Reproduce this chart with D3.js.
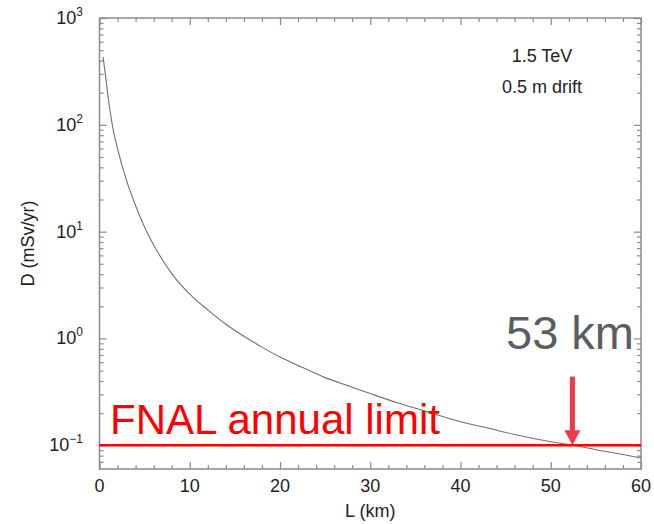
<!DOCTYPE html>
<meta charset="utf-8">
<title>dose vs distance</title>
<body>
<script src="https://cdn.jsdelivr.net/npm/d3@7"></script>
<style>
html, body {
    margin: 0;
    background: #fff;
}
svg {
    display: block;
    font-family: "Liberation Sans", Arial, sans-serif;
}
</style>
<script>
// distance (km) and dose (mSv/yr)
var distKm = [0.4, 0.7, 1.0, 1.4, 2.0, 3.0, 4.0, 5.0, 6.0, 7.0, 8.0, 10.0, 12.0, 14.0, 16.0, 18.0, 20.0,
              22.0, 25.0, 28.0, 30.0, 33.0, 36.0, 40.0, 43.0, 46.0, 50.0, 52.5, 55.0, 58.0, 60.0];
var doseSv = [430, 275, 170, 102, 60, 30, 17.5, 11, 7.5, 5.4, 4.05, 2.6, 1.85, 1.36, 1.05, 0.83, 0.67,
              0.56, 0.43, 0.35, 0.305, 0.25, 0.21, 0.166, 0.145, 0.126, 0.108, 0.100, 0.091, 0.082, 0.076];

var xTicks = [0, 10, 20, 30, 40, 50, 60];
var yExps = [-1, 0, 1, 2, 3];
var limitDose = 0.1,
    limitLabel = "FNAL annual limit";
var arrowKm = 52.4, arrowFrom = 0.44,
    arrowLabel = "53 km";
var notes = ["1.5 TeV", "0.5 m drift"];

var width = 654,
    height = 524,
    margin = {top: 18, right: 13, bottom: 55, left: 99.5};

var svg = d3.select("body").append("svg")
    .attr("width", width)
    .attr("height", height);

var x = d3.scaleLinear().domain([0, 60]).range([margin.left, width - margin.right]);
var y = d3.scaleLog().domain([0.06, 1000]).range([height - margin.bottom, margin.top]);

var minorX = d3.range(0, 61, 2).filter(function(d) { return d % 10; });
var minorY = [];
[-2, -1, 0, 1, 2].forEach(function(e) {
    d3.range(2, 10).forEach(function(k) {
        var v = k * Math.pow(10, e);
        if (v > 0.06 && v < 1000) minorY.push(v);
    });
});

var grey = "#8a8a8a";

function ticks(axis, tr, vals, len) {
    var g = svg.append("g")
        .attr("transform", tr)
        .call(axis.tickValues(vals).tickSize(-len).tickFormat(""));
    g.select(".domain").remove();
    g.selectAll("line").attr("stroke", grey).attr("stroke-width", 1.2);
    return g;
}

var x0 = margin.left, x1 = width - margin.right,
    y0 = height - margin.bottom, y1 = margin.top;

ticks(d3.axisBottom(x), "translate(0," + y0 + ")", xTicks, 7);
ticks(d3.axisBottom(x), "translate(0," + y0 + ")", minorX, 4);
ticks(d3.axisTop(x), "translate(0," + y1 + ")", xTicks, 7);
ticks(d3.axisTop(x), "translate(0," + y1 + ")", minorX, 4);
ticks(d3.axisLeft(y), "translate(" + x0 + ",0)", yExps.map(function(e) { return Math.pow(10, e); }), 7);
ticks(d3.axisLeft(y), "translate(" + x0 + ",0)", minorY, 4);
ticks(d3.axisRight(y), "translate(" + x1 + ",0)", yExps.map(function(e) { return Math.pow(10, e); }), 7);
ticks(d3.axisRight(y), "translate(" + x1 + ",0)", minorY, 4);

svg.append("rect")
    .attr("x", x0).attr("y", y1)
    .attr("width", x1 - x0).attr("height", y0 - y1)
    .attr("fill", "none")
    .attr("stroke", grey)
    .attr("stroke-width", 1.5);

// x labels
svg.selectAll("text.xl").data(xTicks).enter().append("text")
    .attr("class", "xl")
    .attr("x", function(d) { return x(d); })
    .attr("y", 492)
    .attr("text-anchor", "middle")
    .attr("font-size", 18)
    .attr("fill", "#222")
    .text(function(d) { return d; });

// y labels 10^n
var yl = svg.selectAll("text.yl").data(yExps).enter().append("text")
    .attr("class", "yl")
    .attr("x", 83)
    .attr("y", function(d) { return y(Math.pow(10, d)) + 6; })
    .attr("text-anchor", "end")
    .attr("font-size", 18)
    .attr("fill", "#222");
yl.append("tspan").text("10");
yl.append("tspan")
    .attr("dy", -8)
    .attr("font-size", 12)
    .text(function(d) { return d < 0 ? "\u2212" + (-d) : d; });

svg.append("text")
    .attr("x", (x0 + x1) / 2)
    .attr("y", 517)
    .attr("text-anchor", "middle")
    .attr("font-size", 18)
    .attr("fill", "#222")
    .text("L (km)");

svg.append("text")
    .attr("transform", "translate(34," + (y0 + y1) / 2 + ") rotate(-90)")
    .attr("text-anchor", "middle")
    .attr("font-size", 18)
    .attr("fill", "#222")
    .text("D (mSv/yr)");

svg.selectAll("text.note").data(notes).enter().append("text")
    .attr("class", "note")
    .attr("x", 542)
    .attr("y", function(d, i) { return 62 + i * 31; })
    .attr("text-anchor", "middle")
    .attr("font-size", 18)
    .attr("fill", "#222")
    .text(function(d) { return d; });

// dose curve
var line = d3.line()
    .curve(d3.curveMonotoneX)
    .x(function(d, i) { return x(distKm[i]); })
    .y(function(d) { return y(d); });

svg.append("path")
    .datum(doseSv)
    .attr("fill", "none")
    .attr("stroke", "#707070")
    .attr("stroke-width", 1.1)
    .attr("d", line);

// annual limit
svg.append("line")
    .attr("x1", x0).attr("x2", x1)
    .attr("y1", y(limitDose)).attr("y2", y(limitDose))
    .attr("stroke", "#ff0000")
    .attr("stroke-width", 2.5);

svg.append("text")
    .attr("x", 110)
    .attr("y", 434)
    .attr("font-size", 42)
    .attr("fill", "#ff0000")
    .text(limitLabel);

// arrow
var ax = x(arrowKm), aTop = y(arrowFrom), aTip = y(limitDose);
svg.append("line")
    .attr("x1", ax).attr("x2", ax)
    .attr("y1", aTop).attr("y2", aTip - 14)
    .attr("stroke", "#f03a4c")
    .attr("stroke-width", 5);
svg.append("path")
    .attr("d", "M" + (ax - 8) + "," + (aTip - 15) + "L" + (ax + 8) + "," + (aTip - 15) + "L" + ax + "," + aTip + "Z")
    .attr("fill", "#f03a4c");

svg.append("text")
    .attr("x", 506)
    .attr("y", 349)
    .attr("font-size", 47)
    .attr("fill", "#5a5d61")
    .text(arrowLabel);
</script>
